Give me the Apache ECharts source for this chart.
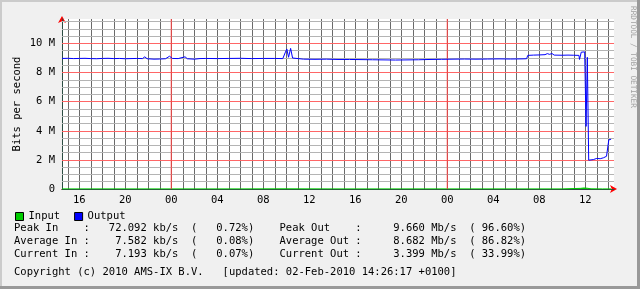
<!DOCTYPE html>
<html>
<head>
<meta charset="utf-8">
<script src="https://cdn.jsdelivr.net/npm/echarts@6/dist/echarts.min.js"></script>
<style>
html,body{margin:0;padding:0;background:#f0f0f0;}
#c{width:640px;height:289px;}
</style>
</head>
<body>
<div id="c"></div>
<script>
// ---- data (hours relative to 01-Feb-2010 00:00, values in Mb/s) ----
const outHours = [-9.5,-9.0,-8.5,-8.0,-7.5,-7.0,-6.5,-6.0,-5.5,-5.0,-4.5,-4.0,-3.5,-3.0,-2.5,-2.3,-2.1,-1.5,-1.0,-0.5,-0.15,0.1,0.6,1.2,1.4,2.0,2.5,3.0,4.0,5.0,6.0,7.0,8.0,9.0,9.7,9.9,10.05,10.2,10.38,10.55,10.7,11.5,12.5,13.5,14.5,15.5,16.5,17.5,18.5,19.5,20.5,21.5,22.5,23.5,24.5,25.5,26.5,27.5,28.5,29.5,30.5,30.9,31.0,31.5,32.0,32.5,32.7,32.9,33.1,33.3,34.0,34.5,35.0,35.45,35.5,35.65,35.95,36.07,36.18,36.3,36.4,36.7,37.0,37.3,37.6,37.85,37.95,38.05,38.25];
const outValues = [8.97,8.98,8.96,8.97,8.98,8.96,8.95,8.97,8.98,8.96,8.97,8.95,8.96,8.97,8.96,9.08,8.95,8.92,8.93,8.95,9.12,8.97,8.96,9.08,8.95,8.92,8.96,8.97,8.96,8.97,8.98,8.96,8.97,8.97,8.96,9.35,9.62,9.05,9.66,9.0,8.93,8.92,8.91,8.92,8.9,8.9,8.89,8.88,8.87,8.86,8.87,8.88,8.9,8.91,8.92,8.93,8.92,8.93,8.94,8.93,8.94,8.95,9.18,9.2,9.21,9.23,9.3,9.25,9.31,9.2,9.19,9.2,9.19,9.18,8.9,9.4,9.42,4.3,9.05,1.98,2.0,2.02,2.1,2.08,2.15,2.25,2.28,3.38,3.42];
const inHours = [-9.5,-6.0,-2.0,2.0,6.0,10.0,14.0,18.0,22.0,26.0,30.0,34.0,35.6,35.9,36.2,36.5,37.5,38.25];
const inValues = [0.007,0.008,0.007,0.007,0.008,0.009,0.007,0.007,0.008,0.007,0.008,0.007,0.045,0.072,0.05,0.01,0.007,0.007];

const hourTicks = [-9,-8,-7,-6,-5,-4,-3,-2,-1,0,1,2,3,4,5,6,7,8,9,10,11,12,13,14,15,16,17,18,19,20,21,22,23,24,25,26,27,28,29,30,31,32,33,34,35,36,37,38];
const hourLabelTicks = [-8,-4,0,4,8,12,16,20,24,28,32,36];
const hourLabels = ['16','20','00','04','08','12','16','20','00','04','08','12'];
const midnightTicks = [0,24];
const yMinorTicks = [0.5,1,1.5,2.5,3,3.5,4.5,5,5.5,6.5,7,7.5,8.5,9,9.5,10.5,11,11.5];
const yMajorTicks = [2,4,6,8,10];
const yLabelTicks = [0,2,4,6,8,10];
const yLabels = ['0','2 M','4 M','6 M','8 M','10 M'];

const legendRows = [
  'Peak In    :   72.092 kb/s  (   0.72%)    Peak Out    :     9.660 Mb/s  ( 96.60%)',
  'Average In :    7.582 kb/s  (   0.08%)    Average Out :     8.682 Mb/s  ( 86.82%)',
  'Current In :    7.193 kb/s  (   0.07%)    Current Out :     3.399 Mb/s  ( 33.99%)'
];
const footer = 'Copyright (c) 2010 AMS-IX B.V.   [updated: 02-Feb-2010 14:26:17 +0100]';

// ---- chart ----
const MONO = '"DejaVu Sans Mono", monospace';
const chart = echarts.init(document.getElementById('c'), null, {renderer: 'canvas'});
const M = 1e6;
const pairs = (xs, ys) => xs.map((x, i) => [x, ys[i] * M]);
const YMAX = 11.68 * M;

const hGridLines = []
  .concat(yMinorTicks.map(v => ({yAxis: v * M, lineStyle: {color: '#b4b4b4', width: 1, type: 'solid'}})))
  .concat(yMajorTicks.map(v => ({yAxis: v * M, lineStyle: {color: '#ff6666', width: 1, type: 'solid'}})));

const midnightSeries = midnightTicks.map((h, i) => ({
  name: 'midnight' + i, type: 'line', xAxisIndex: 0, yAxisIndex: 0, silent: true,
  showSymbol: false, symbol: 'none', z: 5,
  lineStyle: {color: '#ff4040', width: 1}, itemStyle: {color: '#ff4040'},
  emphasis: {disabled: true},
  data: [[h, 0], [h, YMAX]]
}));

const option = {
  backgroundColor: '#f0f0f0',
  animation: false,
  textStyle: {fontFamily: MONO},
  grid: {left: 62, right: 26, top: 19, bottom: 100, show: true, backgroundColor: '#ffffff', borderWidth: 0,
    containLabel: false, outerBoundsMode: 'none'},
  legend: {
    left: 10, top: 206, icon: 'rect', itemWidth: 8, itemHeight: 8, itemGap: 14,
    itemStyle: {borderColor: '#000', borderWidth: 1},
    textStyle: {fontFamily: MONO, fontSize: 10.5, color: '#000'},
    data: ['Input', 'Output']
  },
  xAxis: [
    {
      type: 'value', min: -9.5, max: 38.5, position: 'bottom', z: 1,
      axisLine: {show: true, onZero: false, lineStyle: {color: '#2c4d43', width: 1}},
      axisTick: {show: false, customValues: hourTicks},
      splitLine: {show: true, customValues: hourTicks, lineStyle: {color: '#6a6a6a', width: 1}},
      axisLabel: {customValues: hourLabelTicks, margin: 6, fontFamily: MONO, fontSize: 10.5, color: '#000',
        formatter: v => hourLabels[hourLabelTicks.indexOf(Math.round(v))] || ''}
    },
    {
      type: 'value', min: -9.5, max: 38.5, position: 'bottom', z: 0,
      axisLine: {show: true, onZero: false, symbol: ['none', 'arrow'], symbolSize: [6, 7], symbolOffset: [0, 3], lineStyle: {color: '#ff0000', width: 1}},
      axisTick: {show: false}, splitLine: {show: false}, axisLabel: {show: false}
    }
  ],
  yAxis: [
    {
      type: 'value', min: 0, max: YMAX, position: 'left', z: 1,
      name: 'Bits per second', nameLocation: 'middle', nameGap: 39, nameRotate: 90, nameMoveOverlap: false,
      nameTextStyle: {fontFamily: MONO, fontSize: 10.5, color: '#000'},
      axisLine: {show: true, onZero: false, lineStyle: {color: '#2c4d43', width: 1}},
      axisTick: {show: false, customValues: yLabelTicks.map(v => v * M)},
      splitLine: {show: false},
      axisLabel: {customValues: yLabelTicks.map(v => v * M), margin: 7, fontFamily: MONO, fontSize: 10.5, color: '#000',
        formatter: v => yLabels[yLabelTicks.indexOf(Math.round(v / M))] || ''}
    },
    {
      type: 'value', min: 0, max: YMAX, position: 'left', z: 0,
      axisLine: {show: true, onZero: false, symbol: ['none', 'arrow'], symbolSize: [6, 7], symbolOffset: [0, 3], lineStyle: {color: '#ff0000', width: 1}},
      axisTick: {show: false}, splitLine: {show: false}, axisLabel: {show: false}
    }
  ],
  series: [
    {
      name: 'Input', type: 'line', xAxisIndex: 0, yAxisIndex: 0, showSymbol: false, symbol: 'none',
      itemStyle: {color: '#00cc00'}, lineStyle: {color: '#00cc00', width: 1},
      areaStyle: {color: '#00cc00', opacity: 1},
      data: pairs(inHours, inValues), z: 5,
      markLine: {
        silent: true, symbol: ['none', 'none'], label: {show: false}, animation: false,
        emphasis: {disabled: true},
        data: hGridLines
      }
    }
  ].concat(midnightSeries).concat([
    {
      name: 'Output', type: 'line', xAxisIndex: 0, yAxisIndex: 0, showSymbol: false, symbol: 'none',
      itemStyle: {color: '#0000ff'}, lineStyle: {color: '#0000ff', width: 1},
      data: pairs(outHours, outValues), z: 6
    }
  ]),
  graphic: [
    {type: 'rect', shape: {x: 0, y: 0, width: 640, height: 2}, style: {fill: '#cbcbcb'}, silent: true},
    {type: 'rect', shape: {x: 0, y: 0, width: 2, height: 289}, style: {fill: '#cbcbcb'}, silent: true},
    {type: 'rect', shape: {x: 0, y: 286, width: 640, height: 3}, style: {fill: '#999999'}, silent: true},
    {type: 'rect', shape: {x: 637, y: 0, width: 3, height: 289}, style: {fill: '#999999'}, silent: true},
    {type: 'text', x: 633, y: 6, rotation: -Math.PI / 2,
      style: {text: 'RRDTOOL / TOBI OETIKER', font: '7.7px ' + MONO, fill: '#a0a0a0', align: 'left', verticalAlign: 'middle'}},
    {type: 'text', x: 14, y: 228.5, style: {text: legendRows[0], font: '10.5px ' + MONO, fill: '#000', verticalAlign: 'middle'}},
    {type: 'text', x: 14, y: 241.3, style: {text: legendRows[1], font: '10.5px ' + MONO, fill: '#000', verticalAlign: 'middle'}},
    {type: 'text', x: 14, y: 254.1, style: {text: legendRows[2], font: '10.5px ' + MONO, fill: '#000', verticalAlign: 'middle'}},
    {type: 'text', x: 14, y: 272, style: {text: footer, font: '10.5px ' + MONO, fill: '#000', verticalAlign: 'middle'}}
  ]
};
chart.setOption(option);
</script>
</body>
</html>
